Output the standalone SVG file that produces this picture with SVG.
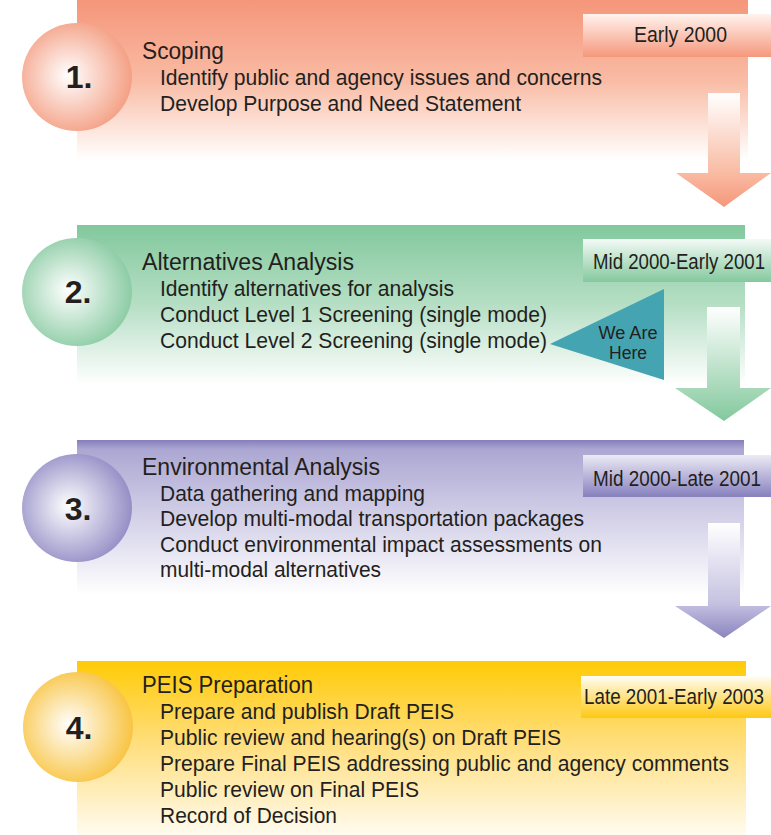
<svg xmlns="http://www.w3.org/2000/svg" width="771" height="835" viewBox="0 0 771 835">
<defs>
<linearGradient id="p1" x1="0" y1="0" x2="0" y2="1"><stop offset="0" stop-color="#F5967A"/><stop offset="0.5" stop-color="#F9BBA4"/><stop offset="1" stop-color="#FFFFFF"/></linearGradient>
<linearGradient id="p2" x1="0" y1="0" x2="0" y2="1"><stop offset="0" stop-color="#82C89D"/><stop offset="0.5" stop-color="#B6DFC5"/><stop offset="1" stop-color="#FFFFFF"/></linearGradient>
<linearGradient id="p3" x1="0" y1="0" x2="0" y2="1"><stop offset="0" stop-color="#847EBB"/><stop offset="0.06" stop-color="#ACA7D2"/><stop offset="0.35" stop-color="#C6C2E1"/><stop offset="1" stop-color="#FFFFFF"/></linearGradient>
<linearGradient id="p4" x1="0" y1="0" x2="0" y2="1"><stop offset="0" stop-color="#FFCB05"/><stop offset="0.45" stop-color="#FFDD77"/><stop offset="1" stop-color="#FFFBF0"/></linearGradient>
<linearGradient id="d1" x1="0" y1="0" x2="0" y2="1"><stop offset="0" stop-color="#FFF3EE"/><stop offset="1" stop-color="#F5987C"/></linearGradient>
<linearGradient id="d2" x1="0" y1="0" x2="0" y2="1"><stop offset="0" stop-color="#F3FAF6"/><stop offset="1" stop-color="#84C99E"/></linearGradient>
<linearGradient id="d3" x1="0" y1="0" x2="0" y2="1"><stop offset="0" stop-color="#ECEAF5"/><stop offset="1" stop-color="#8680BD"/></linearGradient>
<linearGradient id="d4" x1="0" y1="0" x2="0" y2="1"><stop offset="0" stop-color="#FFFDF6"/><stop offset="1" stop-color="#FFC812"/></linearGradient>
<linearGradient id="a1" x1="0" y1="0" x2="0" y2="1"><stop offset="0" stop-color="#FFFFFF"/><stop offset="0.7" stop-color="#F9BBA3"/><stop offset="1" stop-color="#F5977B"/></linearGradient>
<linearGradient id="a2" x1="0" y1="0" x2="0" y2="1"><stop offset="0" stop-color="#FFFFFF"/><stop offset="0.7" stop-color="#A9D9BA"/><stop offset="1" stop-color="#82C89D"/></linearGradient>
<linearGradient id="a3" x1="0" y1="0" x2="0" y2="1"><stop offset="0" stop-color="#FFFFFF"/><stop offset="0.7" stop-color="#C5C1E1"/><stop offset="1" stop-color="#8A84BF"/></linearGradient>
<radialGradient id="c1" cx="0.45" cy="0.5" r="0.55" fx="0.42" fy="0.48"><stop offset="0" stop-color="#FFFFFF"/><stop offset="1" stop-color="#F4A085"/></radialGradient>
<radialGradient id="c2" cx="0.45" cy="0.5" r="0.55" fx="0.42" fy="0.48"><stop offset="0" stop-color="#FFFFFF"/><stop offset="1" stop-color="#8DCCA5"/></radialGradient>
<radialGradient id="c3" cx="0.45" cy="0.5" r="0.55" fx="0.42" fy="0.48"><stop offset="0" stop-color="#FFFFFF"/><stop offset="1" stop-color="#958FC6"/></radialGradient>
<radialGradient id="c4" cx="0.45" cy="0.5" r="0.55" fx="0.42" fy="0.48"><stop offset="0" stop-color="#FFFFFF"/><stop offset="1" stop-color="#F8C443"/></radialGradient>
</defs>
<style>
text{font-family:"Liberation Sans",Arial,sans-serif;fill:#231F20}
.num{font-weight:bold;font-size:32px;text-anchor:middle}
.hd{font-size:23px}
.bd{font-size:22px}
.dt{font-size:22px}
.wh{font-size:18px;text-anchor:middle}
</style>

<g id="step1">
<rect x="77" y="0" width="671" height="160" fill="url(#p1)"/>
<ellipse cx="77" cy="77" rx="55" ry="54" fill="url(#c1)"/>
<text class="num" x="79" y="88">1.</text>
<text class="hd" x="142" y="59" textLength="82" lengthAdjust="spacingAndGlyphs">Scoping</text>
<text class="bd" x="160" y="85" textLength="442" lengthAdjust="spacingAndGlyphs">Identify public and agency issues and concerns</text>
<text class="bd" x="160" y="111" textLength="361" lengthAdjust="spacingAndGlyphs">Develop Purpose and Need Statement</text>
<rect x="583" y="14" width="188" height="43" fill="url(#d1)"/>
<text class="dt" x="634" y="42" textLength="93" lengthAdjust="spacingAndGlyphs">Early 2000</text>
</g>

<g id="step2">
<rect x="77" y="225" width="668" height="160" fill="url(#p2)"/>
<ellipse cx="77" cy="292" rx="55" ry="54" fill="url(#c2)"/>
<text class="num" x="78" y="303">2.</text>
<text class="hd" x="142" y="270" textLength="212" lengthAdjust="spacingAndGlyphs">Alternatives Analysis</text>
<text class="bd" x="160" y="296" textLength="294" lengthAdjust="spacingAndGlyphs">Identify alternatives for analysis</text>
<text class="bd" x="160" y="322" textLength="387" lengthAdjust="spacingAndGlyphs">Conduct Level 1 Screening (single mode)</text>
<text class="bd" x="160" y="348" textLength="387" lengthAdjust="spacingAndGlyphs">Conduct Level 2 Screening (single mode)</text>
<rect x="583" y="239" width="188" height="43" fill="url(#d2)"/>
<text class="dt" x="593" y="269" textLength="172" lengthAdjust="spacingAndGlyphs">Mid 2000-Early 2001</text>
</g>

<g id="we-are-here">
<polygon points="550,344 664,289 664,380" fill="#45A4B1"/>
<text class="wh" x="628" y="339" textLength="59" lengthAdjust="spacingAndGlyphs">We Are</text>
<text class="wh" x="628" y="359" textLength="38" lengthAdjust="spacingAndGlyphs">Here</text>
</g>

<g id="step3">
<rect x="77" y="440" width="667" height="155" fill="url(#p3)"/>
<ellipse cx="77" cy="508" rx="55" ry="54" fill="url(#c3)"/>
<text class="num" x="78" y="520">3.</text>
<text class="hd" x="142" y="475" textLength="238" lengthAdjust="spacingAndGlyphs">Environmental Analysis</text>
<text class="bd" x="160" y="501" textLength="265" lengthAdjust="spacingAndGlyphs">Data gathering and mapping</text>
<text class="bd" x="160" y="526" textLength="424" lengthAdjust="spacingAndGlyphs">Develop multi-modal transportation packages</text>
<text class="bd" x="160" y="552" textLength="442" lengthAdjust="spacingAndGlyphs">Conduct environmental impact assessments on</text>
<text class="bd" x="160" y="577" textLength="221" lengthAdjust="spacingAndGlyphs">multi-modal alternatives</text>
<rect x="583" y="455" width="188" height="42" fill="url(#d3)"/>
<text class="dt" x="593" y="486" textLength="168" lengthAdjust="spacingAndGlyphs">Mid 2000-Late 2001</text>
</g>

<g id="step4">
<rect x="77" y="661" width="669" height="174" fill="url(#p4)"/>
<ellipse cx="78" cy="727" rx="55" ry="55" fill="url(#c4)"/>
<text class="num" x="79" y="739">4.</text>
<text class="hd" x="142" y="693" textLength="171" lengthAdjust="spacingAndGlyphs">PEIS Preparation</text>
<text class="bd" x="160" y="719" textLength="294" lengthAdjust="spacingAndGlyphs">Prepare and publish Draft PEIS</text>
<text class="bd" x="160" y="745" textLength="401" lengthAdjust="spacingAndGlyphs">Public review and hearing(s) on Draft PEIS</text>
<text class="bd" x="160" y="771" textLength="569" lengthAdjust="spacingAndGlyphs">Prepare Final PEIS addressing public and agency comments</text>
<text class="bd" x="160" y="797" textLength="259" lengthAdjust="spacingAndGlyphs">Public review on Final PEIS</text>
<text class="bd" x="160" y="823" textLength="177" lengthAdjust="spacingAndGlyphs">Record of Decision</text>
<rect x="581" y="676" width="190" height="42" fill="url(#d4)"/>
<text class="dt" x="584" y="704" textLength="180" lengthAdjust="spacingAndGlyphs">Late 2001-Early 2003</text>
</g>

<g id="connectors">
<path d="M708,93 H740 V173 H771 L724,207 L676,173 H708 Z" fill="url(#a1)"/>
<path d="M707,307 H740 V388 H771 L724,421 L675,388 H707 Z" fill="url(#a2)"/>
<path d="M708,523 H740 V606 H771 L724,638 L675,606 H708 Z" fill="url(#a3)"/>
</g>
</svg>
